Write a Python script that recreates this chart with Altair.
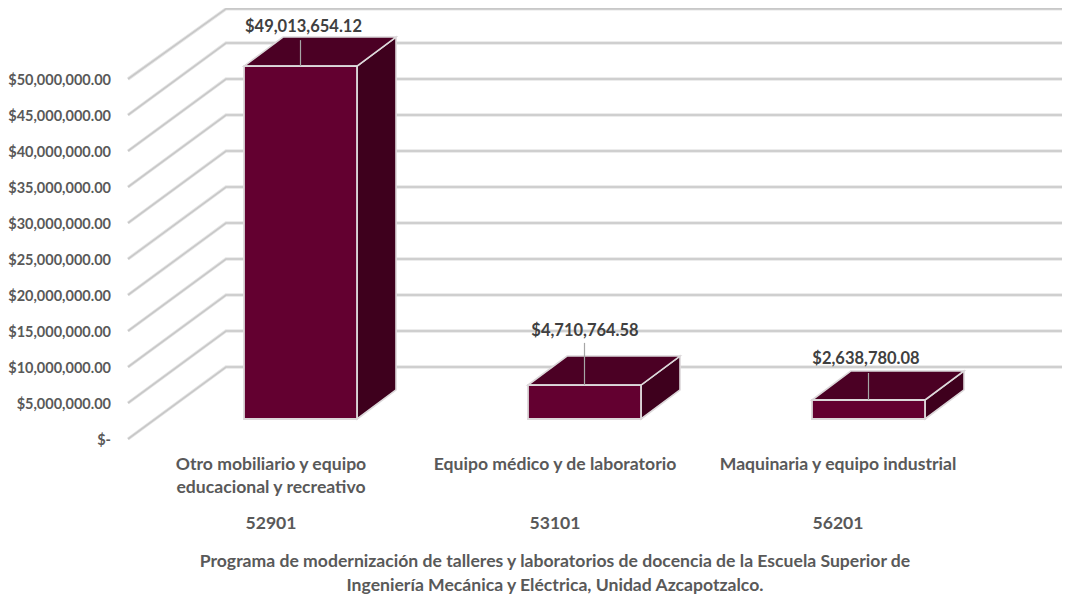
import altair as alt
import pandas as pd

categories = ["Otro mobiliario y equipo\neducacional y recreativo", "Equipo médico y de laboratorio", "Maquinaria y equipo industrial"]
codes = ["52901", "53101", "56201"]
values = [49013654.12, 4710764.58, 2638780.08]
value_labels = ["$49,013,654.12", "$4,710,764.58", "$2,638,780.08"]
title_lines = ["Programa de modernización de talleres y laboratorios de docencia de la Escuela Superior de",
               "Ingeniería Mecánica y Eléctrica, Unidad Azcapotzalco."]
ticks = [i * 5_000_000 for i in range(11)]
tick_labels = ["$-"] + [f"${t:,.2f}" for t in ticks[1:]]

# layout of the pseudo-3D frame, expressed in chart units
X_MAX = 934
FLOOR_X = 98
FLOOR_V = 10_000_000
WALL_TOP = 59_740_000
BAR_LEFT = [116, 400, 684]
BAR_W = 113
BAR_BASE = 2_780_000
DEPTH_X = 39
DEPTH_V = 4_030_000
LEADER_TOP = [55_400_000, 13_350_000, 9_170_000]
LABEL_V = [57_300_000, 15_100_000, 11_200_000]
LABEL_X = [175.5, 457, 738]
CAT_X = [143, 427, 710]

FONT = "Lato"
xs = alt.Scale(domain=[0, X_MAX], nice=False, zero=False)
ys = alt.Scale(domain=[0, 59_861_000], nice=False, zero=False)

def X(f="x"):
    return alt.X(f"{f}:Q", scale=xs, axis=None)

def Y(f="y"):
    return alt.Y(f"{f}:Q", scale=ys, axis=None)

grid_rows = []
for i, t in enumerate(ticks):
    back = min(t + FLOOR_V, WALL_TOP)
    grid_rows += [dict(k=i, x=0, y=t), dict(k=i, x=FLOOR_X, y=back), dict(k=i, x=X_MAX, y=back)]
grid_df = pd.DataFrame(grid_rows)
axis_df = pd.DataFrame({"x": [0] * len(ticks), "y": ticks, "t": tick_labels})

front_rows, top_rows, side_rows, leader_rows = [], [], [], []
for i, (l, v) in enumerate(zip(BAR_LEFT, values)):
    r = l + BAR_W
    t = BAR_BASE + v
    front_rows.append(dict(x=l, x2=r, y=BAR_BASE, y2=t))
    top_rows += [dict(k=i, y=t, x=l, x2=r), dict(k=i, y=t + DEPTH_V, x=l + DEPTH_X, x2=r + DEPTH_X)]
    side_rows += [dict(k=i, x=r, y=BAR_BASE, y2=t), dict(k=i, x=r + DEPTH_X, y=BAR_BASE + DEPTH_V, y2=t + DEPTH_V)]
    leader_rows.append(dict(x=l + BAR_W / 2, y=t, y2=LEADER_TOP[i]))

axis_layer = alt.Chart(axis_df).mark_text(font=FONT, fontSize=14.5, fontWeight="bold", color="#595959", align="right", baseline="middle", dx=-17, dy=2).encode(
    x=X(), y=Y(), text="t:N")

grid_under = alt.Chart(grid_df).mark_line(stroke="#e6e6e6", strokeWidth=3.4).encode(x=X(), y=Y(), detail="k:N", order="x:Q")
grid = alt.Chart(grid_df).mark_line(stroke="#c8c8c8", strokeWidth=1.6).encode(x=X(), y=Y(), detail="k:N", order="x:Q")

EDGE = "#dcd8da"
side = alt.Chart(pd.DataFrame(side_rows)).mark_area(fill="#3e001d", stroke=EDGE, strokeWidth=1.6, orient="vertical").encode(
    x=X(), y=Y(), y2="y2:Q", detail="k:N")
top = alt.Chart(pd.DataFrame(top_rows)).mark_area(fill="#4b0024", stroke=EDGE, strokeWidth=1.6, orient="horizontal").encode(
    y=Y(), x=X(), x2="x2:Q", detail="k:N")
front = alt.Chart(pd.DataFrame(front_rows)).mark_rect(fill="#630030", stroke=EDGE, strokeWidth=1.8).encode(
    x=X(), x2="x2:Q", y=Y(), y2="y2:Q")
leaders = alt.Chart(pd.DataFrame(leader_rows)).mark_rule(stroke="#a6a6a6", strokeWidth=1.2).encode(
    x=X(), y=Y(), y2="y2:Q")

lab_df = pd.DataFrame({"x": LABEL_X, "y": LABEL_V, "t": value_labels})
labels = alt.Chart(lab_df).mark_text(font=FONT, fontSize=16.5, fontWeight="bold", color="#404040", align="center", baseline="middle", dy=1).encode(
    x=X(), y=Y(), text="t:N")

cat_rows = []
for x, c in zip(CAT_X, categories):
    for j, line in enumerate(c.split("\n")):
        cat_rows.append(dict(x=x, py=457 + 23 * j, t=line))
cat = alt.Chart(pd.DataFrame(cat_rows)).mark_text(font=FONT, fontSize=17.6, fontWeight="bold", color="#595959", align="center", baseline="middle").encode(
    x=X(), y=alt.Y("py:Q", scale=None), text="t:N")

code_df = pd.DataFrame({"x": CAT_X, "py": [516] * 3, "t": codes})
code = alt.Chart(code_df).mark_text(font=FONT, fontSize=17.6, fontWeight="bold", color="#595959", align="center", baseline="middle").encode(
    x=X(), y=alt.Y("py:Q", scale=None), text="t:N")

title_df = pd.DataFrame({"x": [427, 427], "py": [554, 578], "t": title_lines})
title = alt.Chart(title_df).mark_text(font=FONT, fontSize=17.6, fontWeight="bold", color="#595959", align="center", baseline="middle").encode(
    x=X(), y=alt.Y("py:Q", scale=None), text="t:N")

chart = alt.layer(grid_under, grid, axis_layer, side, top, front, leaders, labels, cat, code, title).properties(
    width=X_MAX, height=431,
    autosize=alt.AutoSizeParams(type="none"),
    padding={"left": 120, "top": 0, "right": 0, "bottom": 158},
    background="white",
).configure_view(stroke=None)

chart.save("out.html", embed_options={"renderer": "svg", "actions": False})
